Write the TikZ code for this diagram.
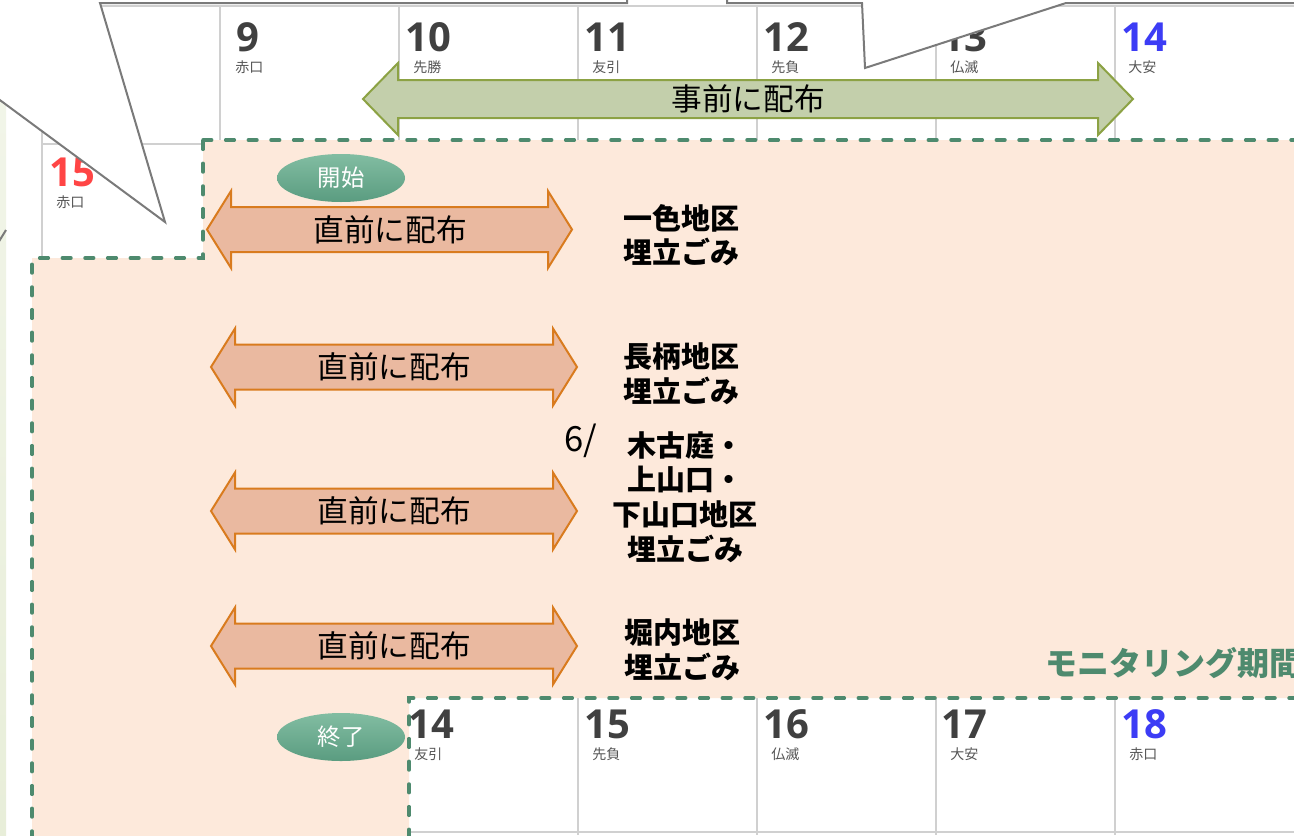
\documentclass[tikz,border=0pt]{standalone}
\usepackage{fontspec}
\setmainfont{Noto Sans CJK JP}
\newfontfamily\datefont{Open Sans}
\usetikzlibrary{shapes.geometric}
\definecolor{peach}{HTML}{FDE9DB}
\definecolor{dashgreen}{HTML}{4E8A6E}
\definecolor{gridgray}{HTML}{D0D0D0}
\definecolor{callgray}{HTML}{7A7A7A}
\definecolor{olivefill}{HTML}{C3CFAB}
\definecolor{olivedraw}{HTML}{8CA244}
\definecolor{salmon}{HTML}{EAB9A0}
\definecolor{orangedraw}{HTML}{D97B1E}
\definecolor{datedark}{HTML}{404040}
\definecolor{dateblue}{HTML}{3C3CF5}
\definecolor{datered}{HTML}{FF4545}
\definecolor{rokugray}{HTML}{555555}
\definecolor{ovaltop}{HTML}{82BDA2}
\definecolor{ovalbot}{HTML}{5A9C80}
\definecolor{stripgreen}{HTML}{E8EED9}
\newcommand\DArrow[7]{\filldraw[#1] (#2,#4) -- ({#2+#5},{#4-#7}) -- ({#2+#5},{#4-#6}) -- ({#3-#5},{#4-#6}) -- ({#3-#5},{#4-#7}) -- (#3,#4) -- ({#3-#5},{#4+#7}) -- ({#3-#5},{#4+#6}) -- ({#2+#5},{#4+#6}) -- ({#2+#5},{#4+#7}) -- cycle;}
\tikzset{
  calline/.style={draw=gridgray, line width=1.5pt},
  datenum/.style={font={\datefont\bfseries\fontsize{30}{30}\selectfont}, text=datedark, anchor=base west, inner sep=0pt},
  roku/.style={font={\fontsize{10.5}{12}\selectfont}, text=rokugray, anchor=west, inner sep=0pt},
  callout/.style={fill=white, draw=callgray, line width=1.5pt, line join=miter},
  period/.style={fill=peach, draw=dashgreen, line width=2.6pt, dash pattern=on 6.5pt off 10.5pt, line cap=round},
  greenarrow/.style={fill=olivefill, draw=olivedraw, line width=1.5pt, line join=miter},
  orangearrow/.style={fill=salmon, draw=orangedraw, line width=1.5pt, line join=miter},
  arrowtext/.style={font={\fontsize{23}{28}\selectfont}, text=black, inner sep=0pt},
  area/.style={font={\bfseries\fontsize{21.75}{26}\selectfont}, align=center, text=black, inner sep=0pt},
  oval/.style={ellipse, minimum width=96pt, minimum height=36pt, inner sep=0pt, top color=ovaltop, bottom color=ovalbot, draw=none, text=white, font={\fontsize{17.5}{20}\selectfont}},
}
\begin{document}
\begin{tikzpicture}[x=0.75pt,y=-0.75pt]
\useasboundingbox (0,0) rectangle (1294,835);
\clip (0,0) rectangle (1294,835);
\fill[white] (0,0) rectangle (1294,835);
\shade[top color=stripgreen!60!white, bottom color=stripgreen] (0,100) rectangle (6,835);
% calendar grid
\draw[calline] (42,6) -- (1294,6);
\foreach \x in {220,399,578,757,936,1115} \draw[calline] (\x,6) -- (\x,144);
\draw[calline] (42,6) -- (42,260);
\draw[calline] (42,144) -- (220,144);
\foreach \x in {578,757,936,1115} \draw[calline] (\x,698) -- (\x,835);
\draw[calline] (409,832) -- (1294,832);
% top row dates
\node[datenum] (d9) at (236,51) {9};
\node[datenum] (d10) at (405,51) {10};
\node[datenum] (d11) at (584,51) {11};
\node[datenum] (d12) at (763,51) {12};
\node[datenum] (d13) at (941,51) {13};
\node[datenum, text=dateblue] (d14) at (1121,51) {14};
\node[roku] (r9) at (235,67) {赤口};
\node[roku] (r10) at (413,67) {先勝};
\node[roku] (r11) at (592,67) {友引};
\node[roku] (r12) at (771,67) {先負};
\node[roku] (r13) at (950,67) {仏滅};
\node[roku] (r14) at (1128,67) {大安};
% second row date
\node[datenum, text=datered] (e15) at (49,186) {15};
\node[roku] (s15) at (56,202) {赤口};
% callouts
\filldraw[callout] (165,222) -- (-30,78) -- (-30,-20) -- (627,-20) -- (627,3) -- (100,3) -- cycle;
\filldraw[callout] (727,-20) -- (727,3) -- (862,3) -- (865,68) -- (1066,3) -- (1310,3) -- (1310,-20) -- cycle;
\draw[draw=callgray, line width=1.5pt] (6,230) -- (-2,243);
% monitoring period area
\filldraw[period] (203,140) -- (1310,140) -- (1310,698) -- (409,698) -- (409,850) -- (32,850) -- (32,258) -- (203,258) -- cycle;
% bottom row dates
\node[datenum] (f14) at (408,738) {14};
\node[datenum] (f15) at (584,738) {15};
\node[datenum] (f16) at (763,738) {16};
\node[datenum] (f17) at (941,738) {17};
\node[datenum, text=dateblue] (f18) at (1121,738) {18};
\node[roku] (g14) at (414,754) {友引};
\node[roku] (g15) at (592,754) {先負};
\node[roku] (g16) at (771,754) {仏滅};
\node[roku] (g17) at (950,754) {大安};
\node[roku] (g18) at (1129,754) {赤口};
% advance distribution arrow
\DArrow{greenarrow}{363}{1133}{99}{35}{19}{36}
\node[arrowtext] (pre) at (748,99) {事前に配布};
% just-before arrows
\DArrow{orangearrow}{207}{572}{229.5}{24}{22.5}{38.5}
\node[arrowtext] (a1) at (390,229.5) {直前に配布};
\DArrow{orangearrow}{211}{577}{367}{24}{22.5}{38.5}
\node[arrowtext] (a2) at (394,367) {直前に配布};
\DArrow{orangearrow}{211}{577}{511}{24}{22.5}{38.5}
\node[arrowtext] (a3) at (394,511) {直前に配布};
\DArrow{orangearrow}{211}{577}{646}{24}{22.5}{38.5}
\node[arrowtext] (a4) at (394,646) {直前に配布};
% area labels
\node[area] (l1) at (681,235) {一色地区\\埋立ごみ};
\node[area] (l2) at (681,373.5) {長柄地区\\埋立ごみ};
\node[area] (l3) at (685,497) {木古庭・\\上山口・\\下山口地区\\埋立ごみ};
\node[area] (l4) at (682,650) {堀内地区\\埋立ごみ};
\node[font={\fontsize{26}{30}\selectfont}, inner sep=0pt] (six) at (581,441) {6/};
% start / end
\node[oval] (start) at (341,178) {開始};
\node[oval] (finish) at (341,737) {終了};
% period label
\node[anchor=west, inner sep=0pt, font={\bfseries\fontsize{24}{27}\selectfont}, text=dashgreen] (mon) at (1045,663) {モニタリング期間};
\end{tikzpicture}
\end{document}
